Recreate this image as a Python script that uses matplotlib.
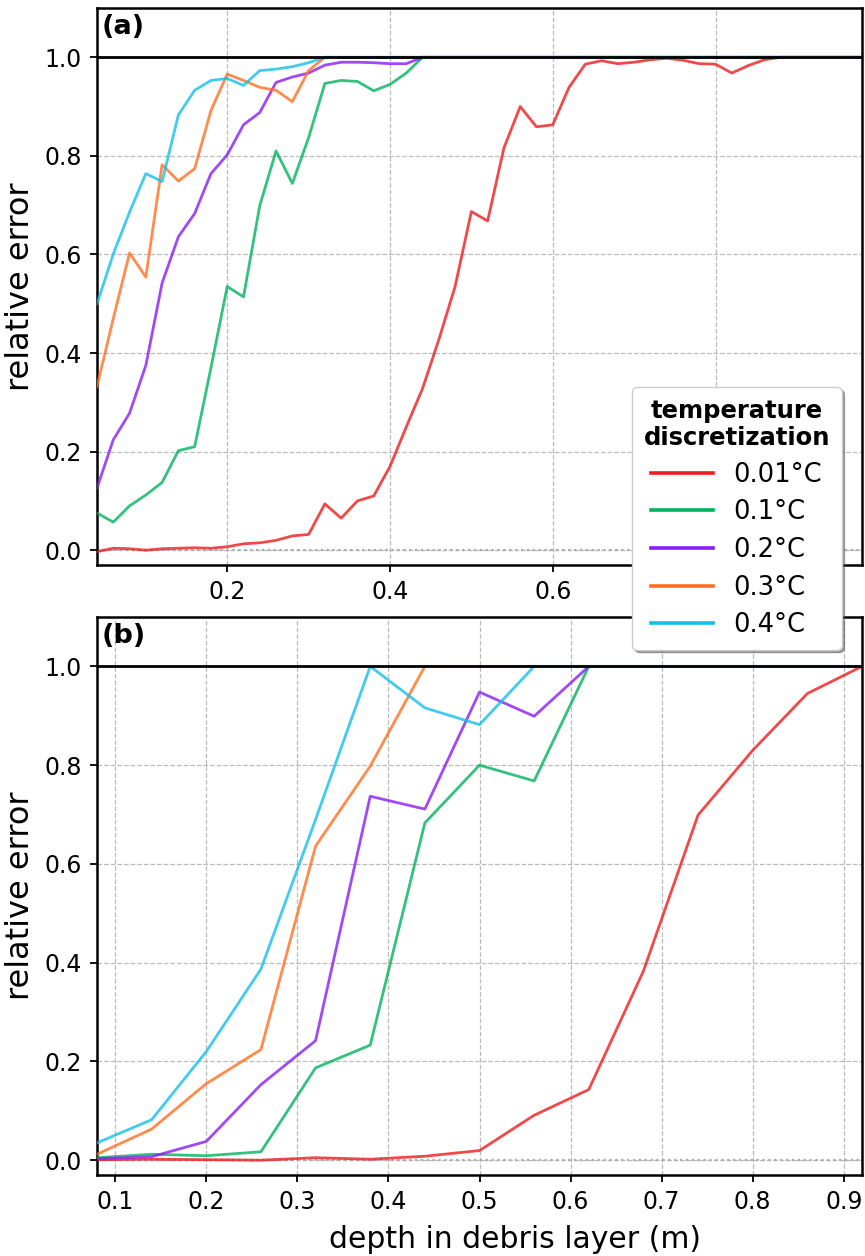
import matplotlib
matplotlib.use("Agg")
import matplotlib.pyplot as plt
from matplotlib.lines import Line2D

# ---------------- data ----------------
labels = ["0.01°C", "0.1°C", "0.2°C", "0.3°C", "0.4°C"]
colors = ["#ee1c1c", "#00b35c", "#8a1cf5", "#ff6e1f", "#12bfea"]

x_a = [0.04, 0.06, 0.08, 0.10, 0.12, 0.14, 0.16, 0.18, 0.20, 0.22, 0.24, 0.26,
       0.28, 0.30, 0.32, 0.34, 0.36, 0.38, 0.40, 0.42, 0.44, 0.46, 0.48, 0.50,
       0.52, 0.54, 0.56, 0.58, 0.60, 0.62, 0.64, 0.66, 0.68, 0.70, 0.72, 0.74,
       0.76, 0.78, 0.80, 0.82, 0.84, 0.86, 0.88, 0.90, 0.92, 0.94, 0.96, 0.98]

a_001 = [-0.003, 0.004, 0.003, 0.0, 0.003, 0.004, 0.005, 0.004, 0.007, 0.013,
         0.015, 0.020, 0.029, 0.032, 0.094, 0.065, 0.100, 0.110, 0.170, 0.250,
         0.328, 0.427, 0.535, 0.687, 0.668, 0.816, 0.900, 0.859, 0.863, 0.939,
         0.986, 0.993, 0.987, 0.990, 0.995, 0.998, 0.994, 0.987, 0.986, 0.968,
         0.983, 0.995, 1.0, 1.0, 1.0, 1.0, 1.0, 1.0]
a_01 = [0.0755, 0.057, 0.090, 0.112, 0.1375, 0.202, 0.210, 0.370, 0.535, 0.514,
        0.699, 0.810, 0.744, 0.837, 0.947, 0.953, 0.951, 0.932, 0.945, 0.968,
        1.0, 1.0, 1.0, 1.0, 1.0, 1.0, 1.0, 1.0, 1.0, 1.0, 1.0, 1.0, 1.0, 1.0,
        1.0, 1.0, 1.0, 1.0, 1.0, 1.0, 1.0, 1.0, 1.0, 1.0, 1.0, 1.0, 1.0, 1.0]
a_02 = [0.126, 0.224, 0.278, 0.375, 0.542, 0.636, 0.683, 0.764, 0.802, 0.863,
        0.888, 0.949, 0.960, 0.968, 0.984, 0.990, 0.990, 0.989, 0.987, 0.987,
        1.0, 1.0, 1.0, 1.0, 1.0, 1.0, 1.0, 1.0, 1.0, 1.0, 1.0, 1.0, 1.0, 1.0,
        1.0, 1.0, 1.0, 1.0, 1.0, 1.0, 1.0, 1.0, 1.0, 1.0, 1.0, 1.0, 1.0, 1.0]
a_03 = [0.332, 0.470, 0.603, 0.554, 0.782, 0.749, 0.774, 0.892, 0.966, 0.953,
        0.939, 0.933, 0.910, 0.973, 1.0, 1.0, 1.0, 1.0, 1.0, 1.0, 1.0, 1.0,
        1.0, 1.0, 1.0, 1.0, 1.0, 1.0, 1.0, 1.0, 1.0, 1.0, 1.0, 1.0, 1.0, 1.0,
        1.0, 1.0, 1.0, 1.0, 1.0, 1.0, 1.0, 1.0, 1.0, 1.0, 1.0, 1.0]
a_04 = [0.500, 0.601, 0.686, 0.764, 0.748, 0.883, 0.933, 0.953, 0.957, 0.943,
        0.973, 0.976, 0.981, 0.989, 1.0, 1.0, 1.0, 1.0, 1.0, 1.0, 1.0, 1.0,
        1.0, 1.0, 1.0, 1.0, 1.0, 1.0, 1.0, 1.0, 1.0, 1.0, 1.0, 1.0, 1.0, 1.0,
        1.0, 1.0, 1.0, 1.0, 1.0, 1.0, 1.0, 1.0, 1.0, 1.0, 1.0, 1.0]

x_b = [0.08, 0.14, 0.20, 0.26, 0.32, 0.38, 0.44, 0.50, 0.56, 0.62, 0.68, 0.74,
       0.80, 0.86, 0.92]
b_001 = [0.001, 0.002, 0.001, 0.0, 0.005, 0.002, 0.008, 0.0195, 0.091, 0.143,
         0.383, 0.699, 0.830, 0.945, 1.0]
b_01 = [0.005, 0.012, 0.009, 0.017, 0.187, 0.233, 0.683, 0.800, 0.768, 1.0,
        1.0, 1.0, 1.0, 1.0, 1.0]
b_02 = [0.003, 0.007, 0.038, 0.153, 0.242, 0.737, 0.711, 0.948, 0.899, 1.0,
        1.0, 1.0, 1.0, 1.0, 1.0]
b_03 = [0.012, 0.063, 0.155, 0.224, 0.636, 0.798, 1.0, 1.0, 1.0, 1.0,
        1.0, 1.0, 1.0, 1.0, 1.0]
b_04 = [0.035, 0.082, 0.220, 0.387, 0.690, 1.0, 0.916, 0.882, 1.0, 1.0,
        1.0, 1.0, 1.0, 1.0, 1.0]

xticks_a = [0.2, 0.4, 0.6, 0.8]
xticks_b = [0.1, 0.2, 0.3, 0.4, 0.5, 0.6, 0.7, 0.8, 0.9]
yticks = [0.0, 0.2, 0.4, 0.6, 0.8, 1.0]

# ---------------- figure ----------------
plt.rcParams["font.family"] = ["DejaVu Sans"]
W, H = 865, 1256
fig = plt.figure(figsize=(W / 100, H / 100), dpi=100)

ax1 = fig.add_axes([97 / W, 1 - 565 / H, 765 / W, 557 / H])
ax2 = fig.add_axes([97 / W, 1 - 1175 / H, 765 / W, 558 / H])

series_a = [a_001, a_01, a_02, a_03, a_04]
series_b = [b_001, b_01, b_02, b_03, b_04]

for ax, xs, ss, xlim, xt, tag in [(ax1, x_a, series_a, (0.04, 0.98), xticks_a, "(a)"),
                                  (ax2, x_b, series_b, (0.08, 0.92), xticks_b, "(b)")]:
    for s, c in zip(ss, colors):
        ax.plot(xs, s, color=c, lw=2.0, alpha=0.8, zorder=3)
    ax.axhline(1.0, color="black", lw=2.0, zorder=4)
    ax.axhline(0.0, color="#aaaaaa", lw=1.6, ls=":", zorder=2)
    ax.set_xlim(*xlim)
    ax.set_ylim(-0.03, 1.1)
    ax.set_xticks(xt)
    ax.set_yticks(yticks)
    ax.set_yticklabels([f"{v:.1f}" for v in yticks])
    ax.set_xticklabels([f"{v:.1f}" for v in xt])
    ax.grid(True, color="#bbbbbb", ls="--", lw=0.9)
    ax.set_axisbelow(True)
    for sp in ax.spines.values():
        sp.set_linewidth(1.8)
        sp.set_color("black")
    ax.tick_params(labelsize=17, length=5, width=1.3, direction="out", pad=6)
    ax.set_ylabel("relative error", fontsize=23, labelpad=6)
    ax.text(0.006, 0.99, tag, transform=ax.transAxes, fontsize=19.5,
            fontweight="bold", va="top", ha="left")

ax2.set_xlabel("depth in debris layer (m)", fontsize=21.5, labelpad=8)
ax2.xaxis.label.set_x((515 - 97) / 765)

handles = [Line2D([], [], color=c, lw=2.6) for c in colors]
leg = fig.legend(handles, labels, loc="upper left",
                 bbox_to_anchor=(632 / W, 1 - 387 / H),
                 bbox_transform=fig.transFigure, borderaxespad=0,
                 title="temperature\ndiscretization",
                 title_fontproperties={"weight": "bold", "size": 17.5},
                 fontsize=18.5, handlelength=2.4, handletextpad=0.8,
                 labelspacing=0.45, frameon=True, fancybox=True, shadow=True,
                 framealpha=1.0, edgecolor="#cccccc", borderpad=0.45)
leg.get_title().set_multialignment("center")

fig.savefig("out.png", dpi=100)
